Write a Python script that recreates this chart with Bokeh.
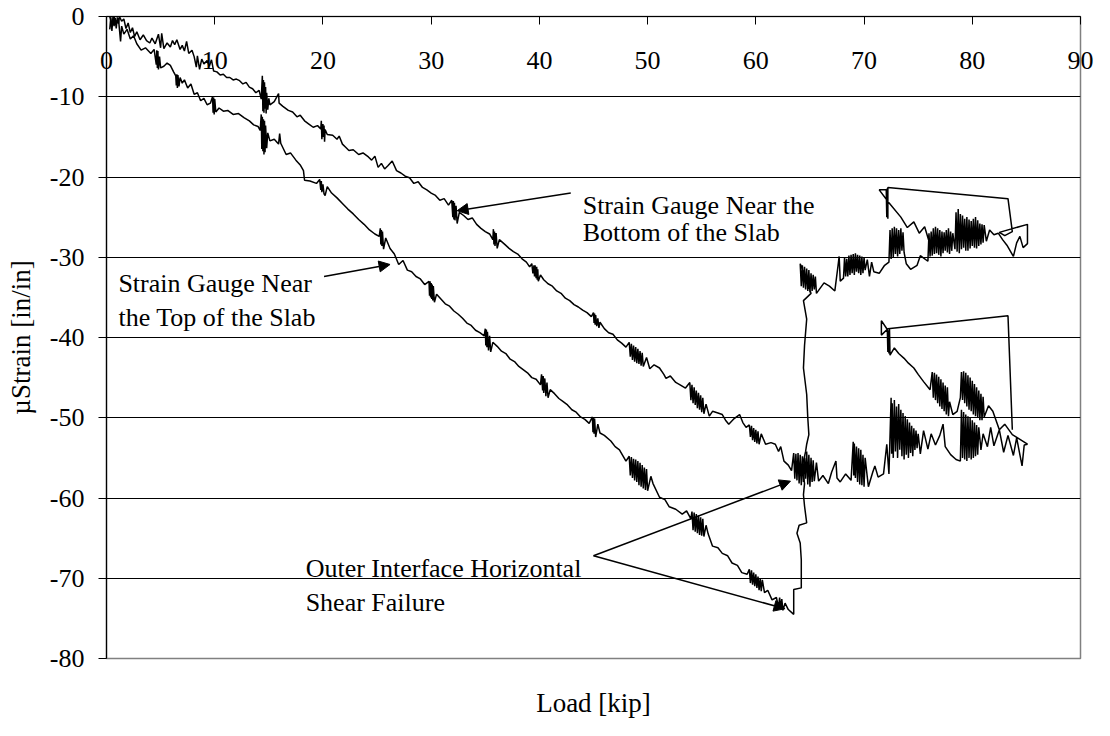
from bokeh.plotting import figure
from bokeh.models import LinearAxis, FixedTicker, Arrow, NormalHead, Range1d
from bokeh.core.properties import value
from bokeh.embed import file_html
from bokeh.resources import INLINE

FONT = "Liberation Serif"

# ---------------- data ----------------
x_ticks = [0, 10, 20, 30, 40, 50, 60, 70, 80, 90]
y_ticks = [0, -10, -20, -30, -40, -50, -60, -70, -80]

# Strain gauge near the bottom of the slab (load [kip], microstrain)
bottom_gauge = [
    (0.3, -1.6), (0.4, -0.1), (0.5, -1.8), (0.6, 0.0), (0.7, -1.2), (0.8, -0.2), (0.9, -1.5), (1.0, -0.1),
    (1.1, -0.9), (1.2, 0.0), (1.4, -0.6), (1.6, -0.3), (1.8, -1.5), (2.0, -0.8), (2.2, -2.0), (2.4, -1.4),
    (2.6, -2.5), (2.8, -1.9), (3.1, -2.9), (3.4, -2.3), (3.7, -3.0), (4.0, -3.3), (4.2, -2.7), (4.5, -3.4),
    (4.8, -2.2), (5.0, -3.9), (5.1, -2.1), (5.3, -4.0), (5.6, -3.3), (5.9, -3.8), (6.1, -3.0), (6.3, -3.5),
    (6.5, -2.9), (6.8, -4.1), (7.0, -3.6), (7.2, -4.3), (7.4, -3.1), (7.6, -4.6), (7.9, -4.2), (8.1, -5.0),
    (8.3, -6.3), (8.4, -4.9), (8.6, -6.6), (8.8, -5.3), (9.0, -5.9), (9.3, -5.5), (9.5, -6.2), (9.7, -5.4),
    (9.9, -6.8), (10.2, -6.9), (10.5, -7.3), (10.8, -7.2), (11.1, -7.6), (11.4, -7.6), (11.7, -7.9),
    (12.0, -7.8), (12.3, -8.0), (12.6, -8.4), (12.9, -8.2), (13.2, -8.8), (13.5, -9.0), (13.8, -9.5),
    (14.1, -9.2), (14.3, -10.3), (14.4, -7.4), (14.45, -11.8), (14.5, -7.9), (14.55, -12.0), (14.6, -8.2),
    (14.65, -11.5), (14.7, -8.8), (14.75, -12.1), (14.8, -9.5), (14.9, -11.6), (15.0, -10.2), (15.1, -11.0),
    (15.5, -10.6), (15.9, -9.6), (15.95, -10.8), (16.3, -11.2), (16.8, -11.7), (17.2, -11.9), (17.6, -12.5),
    (17.9, -12.3), (18.3, -13.0), (18.7, -13.4), (19.1, -13.8), (19.5, -13.6), (19.8, -14.0), (19.85, -13.0),
    (19.9, -15.3), (20.0, -13.4), (20.05, -15.0), (20.1, -13.6), (20.15, -15.6), (20.2, -14.1), (20.4, -14.7),
    (20.9, -14.8), (21.3, -15.3), (21.5, -14.9), (21.8, -15.9), (22.1, -16.3), (22.4, -16.7), (22.8, -16.6),
    (23.3, -17.2), (23.7, -17.0), (24.2, -17.5), (24.5, -17.9), (24.8, -17.4), (25.1, -18.8), (25.4, -18.3),
    (25.7, -19.0), (26.0, -18.6), (26.4, -18.0), (26.8, -19.2), (27.2, -19.5), (27.6, -19.9), (28.0, -20.1),
    (28.4, -20.8), (28.8, -20.6), (29.2, -21.3), (29.6, -21.6), (30.0, -22.0), (30.4, -22.3), (30.8, -22.9),
    (31.2, -22.7), (31.6, -23.5), (31.9, -22.9), (32.0, -25.0), (32.05, -23.0), (32.1, -25.3), (32.15, -23.2),
    (32.2, -25.4), (32.3, -23.6), (32.4, -25.8), (32.6, -24.4), (33.0, -24.8), (33.4, -25.3), (33.8, -25.1),
    (34.2, -25.9), (34.6, -26.4), (35.0, -26.8), (35.4, -27.1), (35.7, -27.8), (35.75, -26.5), (35.8, -28.4),
    (35.85, -26.8), (35.9, -28.6), (36.0, -27.0), (36.1, -28.9), (36.3, -27.8), (36.8, -28.4), (37.2, -28.9),
    (37.6, -29.3), (38.0, -29.6), (38.4, -30.2), (38.8, -30.6), (39.1, -31.2), (39.3, -30.8), (39.4, -32.0),
    (39.5, -31.0), (39.55, -32.4), (39.6, -31.0), (39.7, -32.6), (39.75, -31.2), (39.8, -32.8), (39.85, -31.5),
    (39.9, -33.0), (40.1, -32.2), (40.4, -32.8), (40.8, -33.3), (41.2, -33.6), (41.6, -34.2), (42.0, -34.5),
    (42.4, -35.1), (42.8, -35.4), (43.2, -35.9), (43.6, -36.2), (44.0, -36.6), (44.4, -36.9), (44.8, -37.4),
    (45.0, -36.9), (45.05, -38.2), (45.1, -37.0), (45.15, -38.4), (45.2, -37.2), (45.3, -38.6), (45.4, -37.6),
    (45.5, -38.8), (45.6, -38.1), (46.0, -38.9), (46.4, -39.4), (46.8, -39.6), (47.2, -40.3), (47.6, -40.7),
    (48.0, -41.2), (48.3, -40.6), (48.4, -42.4), (48.5, -40.8), (48.6, -42.8), (48.7, -41.0), (48.8, -43.0),
    (48.9, -41.2), (49.0, -43.2), (49.1, -41.4), (49.2, -43.3), (49.3, -41.7), (49.4, -43.5), (49.5, -41.9),
    (49.6, -43.6), (49.9, -42.5), (50.2, -43.9), (50.6, -43.4), (51.1, -43.8), (51.5, -44.6), (51.7, -45.1),
    (52.1, -44.8), (52.6, -45.6), (53.0, -45.9), (53.5, -46.3), (53.9, -45.6), (54.0, -47.8), (54.1, -45.9),
    (54.2, -48.2), (54.3, -46.2), (54.4, -48.4), (54.5, -46.6), (54.6, -48.8), (54.7, -46.9), (54.8, -49.0),
    (54.9, -47.2), (55.0, -49.3), (55.1, -47.5), (55.2, -49.5), (55.4, -48.3), (55.7, -49.8), (56.0, -49.2),
    (56.5, -49.4), (56.9, -49.6), (57.2, -50.3), (57.5, -50.8), (58.0, -50.1), (58.5, -49.6), (58.8, -50.6),
    (59.1, -51.2), (59.4, -50.9), (59.5, -52.4), (59.6, -51.0), (59.7, -52.8), (59.8, -51.3), (59.9, -53.0),
    (60.0, -51.5), (60.1, -53.2), (60.2, -51.7), (60.3, -53.3), (60.5, -52.0), (60.9, -53.3), (61.4, -53.1),
    (61.8, -53.3), (62.1, -54.2), (62.3, -53.6), (62.6, -55.4), (63.0, -55.9), (63.3, -56.6), (63.5, -54.4),
    (63.6, -57.6), (63.7, -54.5), (63.8, -57.8), (63.9, -54.4), (64.0, -58.2), (64.1, -54.6), (64.2, -58.4),
    (64.3, -54.8), (64.4, -58.0), (64.5, -55.0), (64.6, -57.6), (64.7, -54.2), (64.8, -58.3), (64.9, -54.6),
    (65.0, -58.6), (65.1, -55.0), (65.2, -58.0), (65.3, -55.3), (65.4, -57.9), (65.6, -55.6), (65.8, -57.9),
    (66.2, -57.2), (66.7, -58.2), (67.0, -56.8), (67.4, -55.4), (67.5, -57.5), (67.8, -58.0), (68.3, -57.0),
    (68.8, -57.8), (69.0, -53.0), (69.05, -57.2), (69.1, -53.2), (69.2, -57.5), (69.3, -53.6), (69.4, -58.0),
    (69.5, -53.8), (69.6, -58.3), (69.7, -54.0), (69.8, -58.4), (69.9, -54.6), (70.0, -58.6), (70.1, -55.0),
    (70.4, -58.6), (70.8, -56.8), (71.0, -56.0), (71.3, -57.4), (71.8, -57.0), (72.1, -53.3), (72.3, -57.0),
    (72.5, -47.5), (72.55, -54.5), (72.6, -48.2), (72.7, -55.0), (72.8, -47.8), (72.9, -54.2), (73.0, -48.6),
    (73.1, -55.0), (73.2, -48.3), (73.3, -54.0), (73.4, -49.0), (73.5, -54.8), (73.6, -49.4), (73.7, -55.2),
    (73.8, -49.8), (73.9, -54.6), (74.0, -50.2), (74.1, -55.0), (74.2, -50.6), (74.3, -54.4), (74.4, -51.0),
    (74.5, -54.8), (74.6, -51.3), (74.7, -54.0), (74.8, -51.6), (74.9, -53.8), (75.0, -52.0), (75.2, -54.5),
    (75.5, -51.6), (75.9, -53.9), (76.2, -52.0), (76.6, -53.4), (77.0, -52.2), (77.3, -50.8), (77.5, -53.6),
    (78.0, -54.6), (78.5, -55.2), (78.9, -55.4), (79.0, -49.0), (79.1, -55.0), (79.2, -49.3), (79.3, -55.2),
    (79.4, -49.6), (79.5, -55.4), (79.6, -49.8), (79.7, -55.0), (79.8, -50.0), (79.9, -55.2), (80.0, -50.3),
    (80.1, -55.0), (80.2, -50.6), (80.3, -54.8), (80.4, -50.9), (80.5, -54.6), (80.6, -51.2), (80.8, -54.0),
    (81.0, -52.0), (81.4, -53.6), (81.7, -51.2), (82.0, -53.5), (82.5, -51.5), (82.9, -54.3), (83.3, -52.2),
    (83.8, -54.7), (84.1, -52.5), (84.6, -56.0), (84.8, -53.4), (85.1, -53.3),
    (83.7, -52.1), (83.0, -50.8), (82.5, -51.5), (81.9, -49.2), (81.5, -48.5), (81.1, -49.9), (81.0, -47.4),
    (80.9, -50.3), (80.8, -47.0), (80.7, -50.3), (80.6, -46.6), (80.5, -50.0), (80.4, -46.2), (80.3, -49.8),
    (80.2, -45.8), (80.1, -49.6), (80.0, -45.4), (79.9, -49.2), (79.8, -45.0), (79.7, -49.0), (79.6, -44.7),
    (79.5, -48.6), (79.4, -44.4), (79.3, -48.2), (79.2, -44.2), (79.1, -47.8), (79.0, -44.3), (78.9, -47.5),
    (78.6, -49.2), (78.2, -49.6), (77.9, -48.0), (77.8, -49.8), (77.7, -46.2), (77.6, -49.6), (77.5, -46.0),
    (77.4, -49.2), (77.3, -45.6), (77.2, -48.9), (77.1, -45.2), (77.0, -48.6), (76.9, -44.9), (76.8, -48.2),
    (76.7, -44.6), (76.6, -47.8), (76.5, -44.4), (76.4, -47.5), (76.3, -44.3), (76.1, -46.5), (75.5, -45.5),
    (75.0, -44.6), (74.6, -43.8), (74.1, -43.2), (73.7, -42.6), (73.2, -42.0), (72.8, -41.3), (72.4, -42.2),
    (72.35, -38.9), (72.3, -42.0), (72.25, -39.1), (72.2, -41.8), (72.15, -39.0), (71.6, -37.9), (71.6, -39.7),
    (72.2, -38.9), (83.3, -37.3), (83.7, -51.5),
]

# Strain gauge near the top of the slab (load [kip], microstrain)
top_gauge = [
    (0.3, 0.0), (0.5, -1.0), (0.7, 0.0), (0.9, -0.8), (1.1, -0.2), (1.3, -3.1), (1.4, -1.2), (1.6, -2.2),
    (1.9, -1.6), (2.2, -2.8), (2.5, -2.4), (2.8, -3.4), (3.2, -4.2), (3.6, -3.9), (4.1, -4.6), (4.4, -4.1),
    (4.6, -6.0), (4.65, -4.2), (4.7, -6.4), (4.75, -4.3), (4.8, -6.6), (4.9, -5.0), (5.0, -6.4), (5.3, -6.2),
    (5.6, -5.8), (5.9, -6.1), (6.2, -6.9), (6.4, -7.4), (6.45, -8.6), (6.5, -7.2), (6.55, -8.9), (6.6, -7.3),
    (6.7, -8.7), (6.8, -7.6), (7.0, -8.3), (7.2, -7.9), (7.5, -8.9), (7.8, -8.4), (8.1, -9.7), (8.4, -9.5),
    (8.7, -10.5), (9.0, -10.2), (9.3, -11.0), (9.6, -10.8), (9.8, -10.0), (9.85, -12.0), (9.9, -10.1),
    (9.95, -12.2), (10.0, -10.3), (10.1, -11.9), (10.4, -11.4), (10.8, -11.8), (11.2, -11.7), (11.7, -12.2),
    (12.2, -12.1), (12.7, -12.6), (13.2, -13.0), (13.6, -13.5), (14.0, -13.7), (14.2, -14.2), (14.3, -12.2),
    (14.35, -16.5), (14.4, -12.5), (14.45, -16.8), (14.5, -12.8), (14.55, -17.2), (14.6, -13.0), (14.65, -16.9),
    (14.7, -13.6), (14.8, -16.4), (14.9, -14.5), (15.1, -15.5), (15.5, -15.3), (15.9, -15.9), (16.0, -14.6),
    (16.1, -15.8), (16.6, -17.2), (17.0, -17.0), (17.5, -17.9), (17.9, -18.5), (18.2, -19.2), (18.3, -20.4),
    (18.8, -20.5), (19.4, -20.8), (19.7, -20.3), (19.8, -21.6), (19.85, -20.5), (19.9, -21.9), (20.0, -20.9),
    (20.1, -22.1), (20.2, -22.3), (20.4, -21.2), (20.8, -22.0), (21.3, -22.6), (21.8, -23.3), (22.3, -24.0),
    (22.8, -24.6), (23.3, -25.3), (23.8, -25.9), (24.3, -26.6), (24.8, -27.1), (25.2, -27.4), (25.3, -26.4),
    (25.35, -28.4), (25.4, -26.6), (25.45, -28.6), (25.5, -26.8), (25.6, -29.0), (25.8, -27.6), (26.2, -28.9),
    (26.6, -29.6), (27.0, -30.9), (27.4, -30.4), (27.8, -31.6), (28.2, -31.8), (28.6, -32.4), (29.0, -32.7),
    (29.4, -33.4), (29.8, -33.0), (29.85, -34.8), (29.9, -33.0), (29.95, -35.0), (30.0, -33.2), (30.05, -35.2),
    (30.1, -33.4), (30.15, -35.4), (30.2, -33.6), (30.3, -35.6), (30.5, -34.6), (30.9, -35.2), (31.3, -35.8),
    (31.7, -36.1), (32.1, -36.7), (32.5, -37.1), (32.9, -37.6), (33.3, -38.2), (33.7, -38.5), (34.1, -39.1),
    (34.5, -39.4), (34.9, -39.8), (35.0, -38.9), (35.05, -41.0), (35.1, -39.0), (35.15, -41.2), (35.2, -39.3),
    (35.3, -41.6), (35.4, -39.8), (35.5, -41.8), (35.7, -40.6), (36.1, -41.1), (36.5, -41.7), (36.9, -42.0),
    (37.3, -42.7), (37.7, -43.0), (38.1, -43.6), (38.5, -44.0), (38.9, -44.4), (39.3, -45.0), (39.7, -45.2),
    (40.1, -45.9), (40.2, -44.6), (40.3, -46.6), (40.35, -44.8), (40.4, -46.9), (40.5, -45.1), (40.6, -47.3),
    (40.7, -45.6), (40.8, -47.5), (41.0, -46.5), (41.4, -47.0), (41.8, -47.6), (42.2, -48.0), (42.6, -48.4),
    (43.0, -49.0), (43.4, -49.3), (43.8, -49.9), (44.2, -50.2), (44.6, -50.7), (44.9, -49.9), (44.95, -51.8),
    (45.0, -50.0), (45.05, -52.0), (45.1, -50.1), (45.2, -52.4), (45.4, -50.8), (45.6, -51.9), (46.0, -52.2),
    (46.6, -52.9), (47.0, -53.6), (47.4, -54.0), (48.0, -55.4), (48.3, -54.8), (48.4, -57.2), (48.5, -54.9),
    (48.6, -57.5), (48.7, -55.1), (48.8, -57.8), (48.9, -55.2), (49.0, -58.0), (49.1, -55.4), (49.2, -58.4),
    (49.3, -55.6), (49.4, -58.6), (49.5, -55.9), (49.6, -58.8), (49.7, -56.2), (49.8, -59.0), (49.9, -56.4),
    (50.0, -59.1), (50.3, -57.3), (50.5, -58.2), (51.1, -59.9), (51.6, -60.2), (52.0, -61.1), (52.6, -61.4),
    (53.2, -62.0), (53.6, -61.6), (54.0, -62.6), (54.1, -61.7), (54.2, -64.0), (54.3, -61.8), (54.4, -64.2),
    (54.5, -62.0), (54.6, -64.4), (54.7, -62.2), (54.8, -64.6), (54.9, -62.4), (55.0, -64.7), (55.1, -62.6),
    (55.2, -64.8), (55.4, -63.4), (55.6, -64.5), (56.0, -66.0), (56.5, -66.2), (56.9, -66.9), (57.4, -67.2),
    (57.8, -68.1), (58.3, -68.4), (58.7, -69.3), (59.2, -69.5), (59.4, -68.9), (59.5, -70.6), (59.6, -69.0),
    (59.7, -70.8), (59.8, -69.3), (59.9, -71.0), (60.0, -69.5), (60.1, -71.2), (60.2, -69.8), (60.3, -71.5),
    (60.4, -70.0), (60.5, -71.6), (60.6, -70.2), (60.8, -71.8), (61.1, -71.5), (61.5, -72.7), (61.9, -72.4),
    (62.1, -73.6), (62.2, -72.4), (62.3, -73.8), (62.4, -72.6), (62.5, -74.0), (62.7, -73.1), (63.0, -73.9),
    (63.5, -74.5),
    (63.5, -71.4), (64.2, -71.2), (64.2, -67.7), (64.1, -65.6), (63.8, -64.4), (64.0, -63.4), (64.7, -63.1),
    (64.5, -61.0), (64.4, -59.6), (64.5, -58.2), (64.3, -56.0), (64.6, -54.2), (64.7, -53.3), (64.9, -52.1),
    (64.8, -50.0), (64.7, -47.1), (64.4, -43.8), (64.5, -41.0), (64.7, -37.7), (64.4, -35.4), (65.1, -34.5),
    (64.9, -33.6),
    (64.1, -30.8), (64.2, -33.6), (64.3, -31.0), (64.4, -33.8), (64.5, -31.2), (64.6, -34.0), (64.7, -31.4),
    (64.8, -34.2), (64.9, -31.6), (65.0, -34.4), (65.1, -32.0), (65.2, -34.2), (65.3, -32.2), (65.4, -34.0),
    (65.5, -32.4), (65.6, -34.5), (66.3, -33.2), (66.8, -33.6), (67.3, -34.2), (67.6, -31.0), (67.7, -29.9),
    (67.8, -33.0), (68.1, -32.6), (68.2, -30.0), (68.3, -32.4), (68.4, -30.2), (68.5, -32.4), (68.6, -29.8),
    (68.7, -32.2), (68.8, -29.7), (68.9, -32.0), (69.0, -29.6), (69.1, -32.2), (69.2, -29.5), (69.3, -31.8),
    (69.4, -29.7), (69.5, -32.0), (69.6, -29.8), (69.7, -32.2), (69.8, -29.9), (69.9, -32.0), (70.0, -30.0),
    (70.1, -31.6), (70.3, -30.3), (70.5, -32.4), (70.7, -30.6), (70.9, -31.8), (71.4, -32.0), (71.9, -31.0),
    (72.3, -30.6), (72.4, -26.6), (72.5, -30.2), (72.6, -26.4), (72.7, -30.0), (72.8, -26.2), (72.9, -29.6),
    (73.0, -26.4), (73.1, -29.9), (73.2, -26.6), (73.3, -29.6), (73.4, -26.4), (73.5, -29.2), (73.6, -26.9),
    (73.7, -29.4), (73.9, -30.8), (74.3, -31.5), (74.9, -31.0), (75.2, -29.8), (75.9, -30.5), (76.0, -27.0),
    (76.1, -29.9), (76.2, -26.8), (76.3, -29.8), (76.4, -26.4), (76.5, -29.6), (76.6, -26.2), (76.7, -29.5),
    (76.8, -26.4), (76.9, -29.7), (77.0, -26.6), (77.1, -29.9), (77.2, -26.8), (77.3, -29.5), (77.4, -26.9),
    (77.5, -29.2), (77.6, -26.6), (77.7, -29.4), (77.8, -26.4), (77.9, -29.6), (78.0, -26.8), (78.1, -29.2),
    (78.2, -27.0), (78.4, -29.0), (78.5, -24.4), (78.6, -29.3), (78.7, -24.0), (78.8, -29.5), (78.9, -24.6),
    (79.0, -29.0), (79.1, -24.8), (79.2, -28.8), (79.3, -25.2), (79.4, -29.2), (79.5, -25.0), (79.6, -29.2),
    (79.7, -25.3), (79.8, -28.9), (79.9, -25.5), (80.0, -28.6), (80.1, -25.2), (80.2, -28.8), (80.3, -25.0),
    (80.4, -28.9), (80.5, -25.4), (80.6, -28.6), (80.7, -25.8), (80.8, -28.4), (80.9, -25.9), (81.0, -28.2),
    (81.1, -26.0), (81.3, -28.0), (81.6, -26.6), (82.0, -27.2), (82.4, -27.0), (82.8, -27.8), (83.2, -28.5),
    (83.8, -29.9), (84.1, -28.2), (84.4, -27.4), (84.7, -28.8), (85.1, -28.3), (85.1, -25.9), (82.5, -26.9),
    (83.0, -27.3), (83.7, -26.8), (83.3, -22.7), (72.2, -21.3), (72.2, -25.2), (72.15, -21.4), (72.1, -25.0),
    (72.05, -21.6), (71.4, -21.6), (72.3, -23.2), (73.4, -25.0), (74.0, -26.3), (74.6, -25.6), (75.1, -27.0),
    (75.6, -26.2), (76.0, -28.0),
]

# annotation texts: (left x, baseline y, text)
note_x = [44.0, 44.0, 1.1, 1.1, 18.4, 18.4]
note_y = [-23.5, -26.9, -33.3, -37.5, -68.8, -73.0]
note_text = ["Strain Gauge Near the", "Bottom of the Slab",
             "Strain Gauge Near", "the Top of the Slab",
             "Outer Interface Horizontal", "Shear Failure"]

# arrows: start -> end (data units)
arrow_x0 = [42.9, 20.1, 45.0, 45.0]
arrow_y0 = [-22.0, -32.4, -67.2, -67.2]
arrow_x1 = [32.4, 26.2, 63.2, 62.7]
arrow_y1 = [-24.2, -30.9, -57.9, -73.8]

# ---------------- figure ----------------
p = figure(width=1094, height=720, x_range=Range1d(0, 90), y_range=Range1d(-80, 0),
           output_backend="svg", toolbar_location=None,
           min_border_left=106, min_border_right=14, min_border_top=16, min_border_bottom=57)
p.background_fill_color = "white"
p.border_fill_color = "white"
p.outline_line_color = "#808080"
p.outline_line_width = 1.5

# grid
p.xgrid.visible = False
p.ygrid.ticker = FixedTicker(ticks=y_ticks[1:-1])
p.ygrid.grid_line_color = "black"
p.ygrid.grid_line_width = 1

# y axis
ya = p.yaxis[0]
ya.ticker = FixedTicker(ticks=y_ticks)
ya.major_label_overrides = {v: str(v) for v in y_ticks}
ya.axis_line_color = "black"
ya.axis_line_width = 1.2
ya.major_tick_out = 8
ya.major_tick_in = 0
ya.minor_tick_out = 0
ya.minor_tick_in = 0
ya.major_tick_line_color = "black"
ya.major_label_text_font = FONT
ya.major_label_text_font_size = "26px"
ya.major_label_text_color = "black"
ya.major_label_standoff = 14
ya.axis_label = "\u00b5Strain [in/in]"
ya.axis_label_text_font = FONT
ya.axis_label_text_font_size = "27px"
ya.axis_label_text_font_style = "normal"
ya.axis_label_text_color = "black"
ya.axis_label_standoff = 11

# bottom axis: title only
xa = p.xaxis[0]
xa.ticker = FixedTicker(ticks=[])
xa.axis_line_color = None
xa.major_tick_out = 0
xa.major_tick_in = 0
xa.minor_tick_out = 0
xa.minor_tick_in = 0
xa.axis_label = "Load [kip]"
xa.axis_label_text_font = FONT
xa.axis_label_text_font_size = "27px"
xa.axis_label_text_font_style = "normal"
xa.axis_label_text_color = "black"
xa.axis_label_standoff = 29

# x axis along y = 0 (top of the frame); ticks point down, labels sit under the line
top_axis = LinearAxis(ticker=FixedTicker(ticks=x_ticks))
top_axis.axis_line_color = "black"
top_axis.axis_line_width = 1.2
top_axis.major_tick_out = 0
top_axis.major_tick_in = 8
top_axis.minor_tick_out = 0
top_axis.minor_tick_in = 0
top_axis.major_tick_line_color = "black"
top_axis.major_label_text_font = FONT
top_axis.major_label_text_font_size = "26px"
top_axis.major_label_text_color = "black"
top_axis.major_label_standoff = -52
p.add_layout(top_axis, "above")

# data lines
p.line([q[0] for q in bottom_gauge], [q[1] for q in bottom_gauge], line_color="black", line_width=1.5)
p.line([q[0] for q in top_gauge], [q[1] for q in top_gauge], line_color="black", line_width=1.5)

# annotations
p.text(x=note_x, y=note_y, text=note_text, text_font=value(FONT), text_font_size="26px",
       text_color="black", text_align="left", text_baseline="alphabetic")
for x0, y0, x1, y1 in zip(arrow_x0, arrow_y0, arrow_x1, arrow_y1):
    p.add_layout(Arrow(x_start=x0, y_start=y0, x_end=x1, y_end=y1, line_color="black", line_width=1.5,
                       end=NormalHead(size=11, fill_color="black", line_color="black")))

open("out.html", "w").write(file_html(p, INLINE))
